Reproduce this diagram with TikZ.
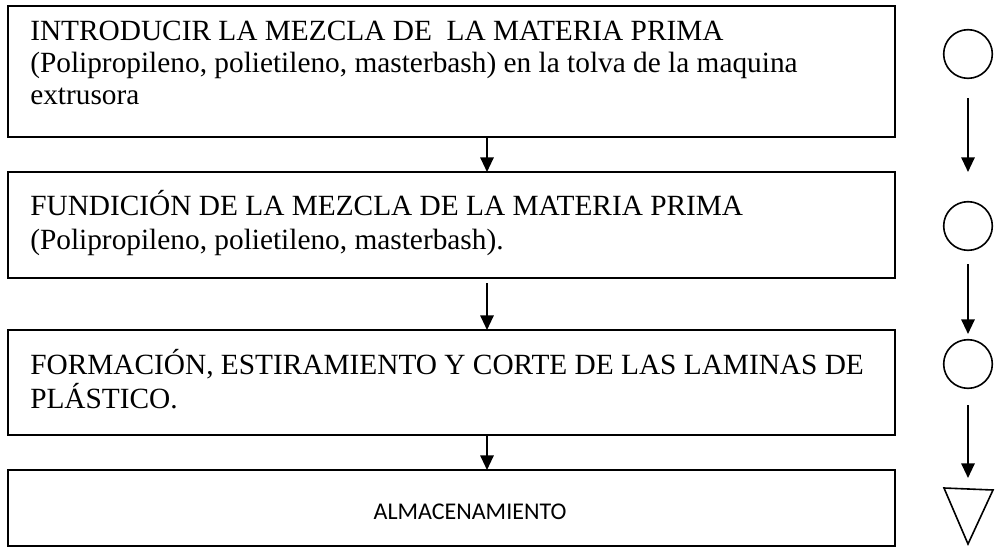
\documentclass[tikz,border=0pt]{standalone}
\usepackage{fontspec}
\setmainfont{Liberation Serif}
\newfontfamily\calfont{Carlito}
\usetikzlibrary{arrows.meta}
\begin{document}
\begin{tikzpicture}[x=0.75pt,y=-0.75pt,
  boxn/.style={draw, line width=1.5pt, minimum width=665.25pt, inner sep=0pt, outer sep=0pt},
  txt/.style={anchor=base west, inner sep=0pt, font=\fontsize{22}{26}\selectfont},
  calt/.style={anchor=base, inner sep=0pt, font=\calfont\fontsize{18}{22}\selectfont},
  arr/.style={line width=1.5pt, -{Triangle[length=11pt,width=10pt]}},
  circ/.style={draw, circle, line width=1.2pt, minimum size=36.5pt, inner sep=0pt, outer sep=0pt}]
\useasboundingbox (0,0) rectangle (996,547);
% boxes
\node[boxn, minimum height=98.25pt] (b1) at (451.5,71.5) {};
\node[boxn, minimum height=79.5pt] (b2) at (451.5,225) {};
\node[boxn, minimum height=78.75pt] (b3) at (451.5,382.5) {};
\node[boxn, minimum height=57pt] (b4) at (451.5,508) {};
% texts
\node[txt] (t1a) at (30,40) {INTRODUCIR LA MEZCLA DE\ \ LA MATERIA PRIMA};
\node[txt] (t1b) at (30,72) {(Polipropileno, polietileno, masterbash) en la tolva de la maquina};
\node[txt] (t1c) at (30,104) {extrusora};
\node[txt] (t2a) at (30,215) {FUNDICIÓN DE LA MEZCLA DE LA MATERIA PRIMA};
\node[txt] (t2b) at (30,249) {(Polipropileno, polietileno, masterbash).};
\node[txt] (t3a) at (30,374) {FORMACIÓN, ESTIRAMIENTO Y CORTE DE LAS LAMINAS DE};
\node[txt] (t3b) at (30,408) {PLÁSTICO.};
\node[calt] (t4) at (470,519) {ALMACENAMIENTO};
% left arrows
\coordinate (ax) at (487,0);
\draw[arr] (b1.south -| ax) -- (b2.north -| ax);
\draw[arr, shorten <=3.75pt] (b2.south -| ax) -- (b3.north -| ax);
\draw[arr] (b3.south -| ax) -- (b4.north -| ax);
% right column
\node[circ] (c1) at (968,54) {};
\node[circ] (c2) at (968,226) {};
\node[circ] (c3) at (968,364) {};
\draw[line width=1.2pt, line join=miter] (944,488) -- (993,490) -- (968,544) -- cycle;
\coordinate (p1) at (968,98);
\coordinate (q1) at (968,172);
\coordinate (p2) at (968,264);
\coordinate (q2) at (968,334);
\coordinate (p3) at (968,405);
\coordinate (q3) at (968,478);
\draw[arr] (p1) -- (q1);
\draw[arr] (p2) -- (q2);
\draw[arr] (p3) -- (q3);
\end{tikzpicture}
\end{document}
